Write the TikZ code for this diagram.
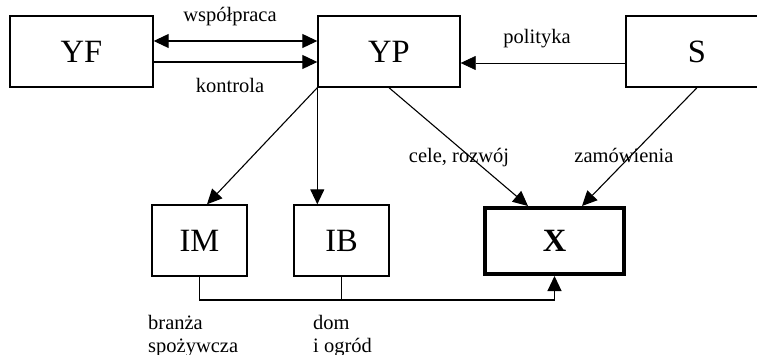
\documentclass[tikz,border=0pt]{standalone}
\usepackage{fontspec}
\setmainfont{Liberation Serif}
\usetikzlibrary{arrows.meta}
\tikzset{
  box/.style={draw, line width=1.4pt, minimum width=143pt, minimum height=71pt, inner sep=0pt, font=\fontsize{32.5}{38}\selectfont},
  sbox/.style={box, minimum width=95pt},
  arr/.style={line width=1.1pt, -{Triangle[length=15pt,width=14pt]}},
  biarr/.style={line width=1.1pt, {Triangle[length=15pt,width=14pt]}-{Triangle[length=15pt,width=14pt]}},
  lbl/.style={anchor=base, inner sep=0pt, font=\fontsize{20.5}{24}\selectfont},
  llbl/.style={anchor=base west, inner sep=0pt, font=\fontsize{20.5}{24}\selectfont}
}
\begin{document}
\begin{tikzpicture}[x=1pt,y=-1pt]
\useasboundingbox (0,0) rectangle (757,355);
\clip (0,0) rectangle (757,355);
\node[box] (YF) at (81.5,51.5) {YF};
\node[box, minimum width=142pt] (YP) at (389,51.5) {YP};
\node[box, minimum width=142pt] (S) at (697,51.5) {S};
\node[sbox] (IM) at (199.5,240.5) {IM};
\node[sbox] (IB) at (341.5,240.5) {IB};
\node[box, line width=4pt, minimum width=139pt, minimum height=66pt] (X) at (554.5,241) {\textbf{X}};
\draw[biarr] ([yshift=10.5pt]YF.east) -- ([yshift=10.5pt]YP.west);
\draw[arr] ([yshift=-10.5pt]YF.east) -- ([yshift=-10.5pt]YP.west);
\draw[arr, line width=0.6pt] ([yshift=-11.5pt]S.west) -- ([yshift=-11.5pt]YP.east);
\draw[arr] (YP.south west) -- ([xshift=7.5pt]IM.north);
\draw[arr] (YP.south west) -- (YP.south west |- IB.north);
\draw[arr] (YP.south) -- ([xshift=-26.5pt]X.north);
\draw[arr] (S.south) -- ([xshift=27.5pt]X.north);
\coordinate (bus) at (0,300);
\draw[arr] (IM.south) -- (IM.south |- bus) -| (X.south);
\draw[line width=1.1pt] (IB.south) -- (IB.south |- bus);
\node[lbl] (wsp) at (230,22) {współpraca};
\node[lbl] (kon) at (230,93) {kontrola};
\node[lbl] (pol) at (537,44) {polityka};
\node[lbl] (cel) at (459,163) {cele, rozwój};
\node[lbl] (zam) at (624,163) {zamówienia};
\node[llbl] (br1) at (148,329) {branża};
\node[llbl] (br2) at (148,352) {spożywcza};
\node[llbl] (dom1) at (313,329) {dom};
\node[llbl] (dom2) at (313,352) {i ogród};
\end{tikzpicture}
\end{document}
